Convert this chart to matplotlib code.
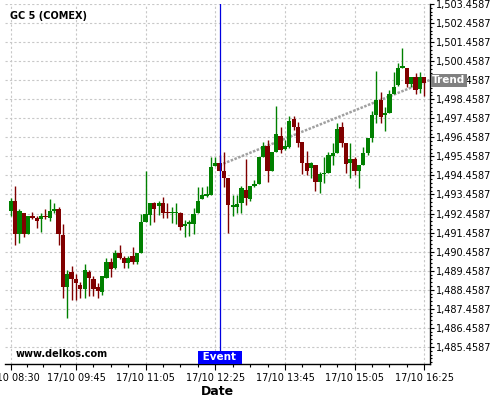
import matplotlib
matplotlib.use("Agg")
import matplotlib.pyplot as plt
import matplotlib.dates as mdates
import matplotlib.transforms as mtransforms
from matplotlib.ticker import FuncFormatter, FixedLocator
import numpy as np
import pandas as pd

# 5 minute candles, GC 5 (COMEX), 17/10
times = pd.date_range("2017-10-17 08:30", periods=96, freq="5min")

opens = [1492.60, 1493.11, 1491.36, 1492.48, 1491.36, 1492.32, 1492.22, 1492.15, 1492.32, 1492.23,
         1492.59, 1492.69, 1491.33, 1488.61, 1489.38, 1489.02, 1488.70, 1488.51, 1489.40, 1489.02,
         1488.58, 1488.32, 1489.10, 1489.92, 1489.61, 1490.40, 1490.10, 1489.84, 1490.22, 1489.92,
         1490.40, 1492.02, 1492.38, 1493.02, 1492.85, 1493.02, 1492.50, 1492.50, 1492.50, 1492.50,
         1491.80, 1491.90, 1491.90, 1492.47, 1493.20, 1493.39, 1493.43, 1494.95, 1495.12, 1494.69,
         1494.34, 1492.78, 1492.81, 1493.02, 1493.69, 1493.20, 1493.90, 1494.00, 1495.44, 1496.00,
         1494.69, 1495.70, 1496.53, 1495.83, 1495.96, 1497.42, 1497.01, 1496.21, 1495.12, 1494.83,
         1495.00, 1494.13, 1494.53, 1494.57, 1495.48, 1495.65, 1496.98, 1496.14, 1495.12, 1495.30,
         1494.70, 1495.00, 1495.65, 1496.40, 1497.63, 1498.42, 1497.64, 1497.75, 1498.73, 1499.20,
         1500.11, 1500.08, 1499.24, 1499.61, 1498.98, 1499.61]
closes = [1493.11, 1491.36, 1492.59, 1491.36, 1492.32, 1492.22, 1492.05, 1492.32, 1492.27, 1492.59,
          1492.68, 1491.36, 1488.61, 1489.28, 1489.03, 1488.82, 1488.51, 1489.49, 1489.10, 1488.49,
          1488.40, 1489.17, 1489.92, 1489.53, 1490.40, 1490.13, 1489.84, 1490.10, 1489.92, 1490.40,
          1492.02, 1492.41, 1493.02, 1492.71, 1493.02, 1492.47, 1492.47, 1492.53, 1492.53, 1491.73,
          1491.90, 1492.02, 1492.41, 1493.11, 1493.43, 1493.46, 1494.91, 1495.09, 1494.69, 1494.34,
          1492.90, 1492.90, 1492.94, 1493.78, 1493.25, 1493.90, 1494.00, 1495.44, 1496.00, 1494.69,
          1495.70, 1496.63, 1495.79, 1496.00, 1497.33, 1497.01, 1496.14, 1495.12, 1494.70, 1495.12,
          1494.13, 1494.53, 1494.60, 1495.53, 1495.65, 1496.88, 1496.14, 1495.04, 1495.30, 1494.70,
          1495.00, 1495.65, 1496.40, 1497.63, 1498.42, 1497.54, 1497.75, 1498.73, 1499.12, 1500.08,
          1500.20, 1499.24, 1499.61, 1498.94, 1499.61, 1499.30]
highs = [1493.25, 1493.90, 1492.69, 1492.50, 1492.32, 1492.55, 1492.32, 1492.47, 1492.68, 1493.20,
         1492.99, 1492.81, 1491.89, 1489.49, 1489.70, 1489.28, 1488.84, 1489.80, 1489.49, 1489.19,
         1488.79, 1489.17, 1490.10, 1490.10, 1490.57, 1490.80, 1490.22, 1490.22, 1490.68, 1490.40,
         1492.41, 1494.70, 1493.02, 1493.08, 1493.13, 1493.31, 1493.02, 1492.78, 1492.99, 1492.53,
         1492.11, 1492.11, 1492.73, 1493.86, 1493.86, 1493.90, 1495.41, 1495.44, 1495.53, 1495.70,
         1494.34, 1493.43, 1493.43, 1493.90, 1495.30, 1493.90, 1494.21, 1495.44, 1496.23, 1496.32,
         1495.70, 1498.10, 1496.98, 1496.32, 1497.58, 1497.58, 1497.28, 1496.21, 1495.75, 1495.17,
         1495.00, 1494.65, 1495.44, 1495.70, 1496.14, 1497.19, 1497.28, 1496.14, 1496.14, 1495.41,
         1495.00, 1495.93, 1496.40, 1497.85, 1499.94, 1498.82, 1498.06, 1498.94, 1499.90, 1500.37,
         1501.13, 1500.08, 1499.61, 1499.82, 1499.90, 1499.61]
lows = [1492.32, 1490.79, 1490.89, 1491.21, 1491.36, 1492.15, 1491.68, 1491.47, 1492.17, 1492.08,
        1492.47, 1490.79, 1488.00, 1486.95, 1487.91, 1487.91, 1488.00, 1488.05, 1488.12, 1488.12,
        1488.05, 1488.17, 1489.10, 1489.13, 1489.53, 1490.05, 1489.58, 1489.58, 1489.80, 1489.80,
        1490.40, 1492.02, 1491.85, 1492.02, 1492.38, 1492.20, 1492.20, 1491.97, 1491.90, 1491.59,
        1491.21, 1491.27, 1491.41, 1492.47, 1493.20, 1493.32, 1493.43, 1494.95, 1494.69, 1493.86,
        1491.45, 1492.32, 1492.47, 1492.47, 1492.90, 1493.13, 1493.86, 1494.00, 1495.44, 1494.13,
        1494.69, 1495.70, 1495.65, 1495.79, 1495.88, 1496.84, 1495.96, 1494.53, 1494.48, 1494.30,
        1493.65, 1493.52, 1494.04, 1494.57, 1495.00, 1495.65, 1495.96, 1494.57, 1494.30, 1494.48,
        1493.78, 1495.00, 1495.53, 1496.23, 1497.19, 1497.22, 1496.79, 1497.75, 1498.73, 1499.15,
        1500.08, 1499.12, 1499.12, 1498.73, 1498.80, 1498.63]

trend_times = pd.to_datetime(["2017-10-17 12:30", "2017-10-17 16:31"])
trend_values = [1495.00, 1499.46]
event_time = pd.Timestamp("2017-10-17 12:30")

tick_times = pd.to_datetime(["2017-10-17 08:30", "2017-10-17 09:45", "2017-10-17 11:05",
                             "2017-10-17 12:25", "2017-10-17 13:45", "2017-10-17 15:05",
                             "2017-10-17 16:25"])
tick_labels = ["17/10 08:30", "17/10 09:45", "17/10 11:05", "17/10 12:25",
               "17/10 13:45", "17/10 15:05", "17/10 16:25"]
price_ticks = np.arange(1485.4587, 1503.47, 1.0)

UP = "#008000"
DOWN = "#800000"

x = mdates.date2num(times.to_pydatetime())
minute = 1.0 / 1440

fig = plt.figure(figsize=(5, 4), dpi=100)
ax = fig.add_axes([0.01, 0.089, 0.85, 0.901])

colors = [UP if c >= o else DOWN for o, c in zip(opens, closes)]
bottoms = [min(o, c) for o, c in zip(opens, closes)]
heights = [max(abs(c - o), 0.05) for o, c in zip(opens, closes)]
ax.vlines(x, lows, highs, colors=colors, linewidth=1, zorder=3)
ax.bar(x, heights, bottom=bottoms, width=4.9 * minute, color=colors, linewidth=0, zorder=4)

# trend line + event marker
tx = mdates.date2num(trend_times.to_pydatetime())
ax.plot(tx, trend_values, color="#a0a0a0", lw=1.8, ls=(0, (1, 0.6)), zorder=2)
ex = mdates.date2num(event_time.to_pydatetime())
ax.axvline(ex, color="#0000e0", lw=0.9, zorder=6)

# axes limits
t0 = x[0]
ax.set_xlim(t0 - 6.5 * minute, t0 + 481.6 * minute)
ax.set_ylim(1484.54, 1503.4587)

# ticks
major_x = mdates.date2num(tick_times.to_pydatetime())
minor_x = []
for a, b in zip(major_x[:-1], major_x[1:]):
    step = (b - a) / 4
    minor_x += [a + step * k for k in range(1, 4)]
minor_x += [major_x[-1] + 20 * minute * k for k in range(1, 2)]
ax.xaxis.set_major_locator(FixedLocator(major_x))
ax.xaxis.set_minor_locator(FixedLocator(minor_x))
ax.set_xticklabels(tick_labels)

ax.yaxis.set_major_locator(FixedLocator(price_ticks))
ax.yaxis.set_minor_locator(FixedLocator(np.arange(1484.6587, 1503.46, 0.2)))
ax.yaxis.set_major_formatter(FuncFormatter(lambda v, p: f"{v:,.4f}"))

ax.tick_params(axis="y", which="both", left=False, labelleft=False, right=True,
               labelright=True, direction="out", labelsize=7, pad=1.5, width=0.8)
ax.tick_params(axis="y", which="major", length=3)
ax.tick_params(axis="y", which="minor", length=1.5)
ax.tick_params(axis="x", which="both", direction="out", labelsize=7, pad=2.5, width=0.8)
ax.tick_params(axis="x", which="major", length=4)
ax.tick_params(axis="x", which="minor", length=2)

for s in ["top", "left"]:
    ax.spines[s].set_visible(False)
for s in ["right", "bottom"]:
    ax.spines[s].set_color("black")
    ax.spines[s].set_linewidth(1)

ax.grid(True, which="major", color="#c8c8c8", ls=(0, (2, 2)), lw=0.8)
ax.set_axisbelow(True)

ax.set_xlabel("Date", fontsize=9, fontweight="bold", labelpad=1)

# labels inside the chart
ax.text(0.012, 0.968, "GC 5 (COMEX)", transform=ax.transAxes, fontsize=7,
        fontweight="bold", ha="left", va="center")
ax.text(0.024, 0.029, "www.delkos.com", transform=ax.transAxes, fontsize=7,
        fontweight="bold", ha="left", va="center")

bx = mtransforms.blended_transform_factory(ax.transData, ax.transAxes)
ax.text(ex, 0.006, " Event ", transform=bx, fontsize=7.5, fontweight="bold",
        color="white", ha="center", va="bottom", zorder=7,
        bbox=dict(boxstyle="square,pad=0.15", facecolor="blue", edgecolor="none"))

by = mtransforms.blended_transform_factory(ax.transAxes, ax.transData)
ax.text(1.005, trend_values[-1], "Trend", transform=by, fontsize=7.5, fontweight="bold",
        color="white", ha="left", va="center", zorder=7, clip_on=False,
        bbox=dict(boxstyle="square,pad=0.15", facecolor="#808080", edgecolor="none"))

fig.savefig("out.png", dpi=100)
